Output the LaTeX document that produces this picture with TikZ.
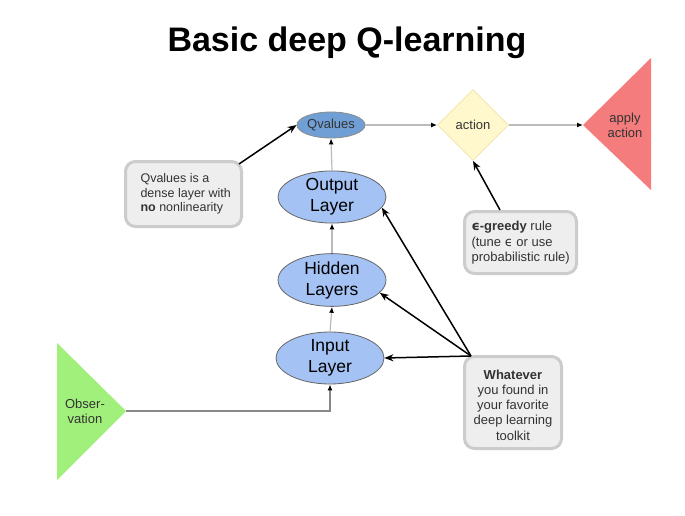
\documentclass[tikz,border=0pt]{standalone}
\usepackage{fontspec}
\setmainfont{Liberation Sans}
\newfontfamily\dv{DejaVu Sans}
\usetikzlibrary{shapes.geometric,arrows.meta}
\definecolor{layerfill}{HTML}{A4C2F4}
\definecolor{qfill}{HTML}{6F9FD4}
\definecolor{notefill}{HTML}{EEEEEE}
\definecolor{noteedge}{HTML}{CCCCCC}
\definecolor{actfill}{HTML}{FFF8CC}
\definecolor{actedge}{HTML}{F2E2A6}
\definecolor{redtri}{HTML}{F47C7C}
\definecolor{greentri}{HTML}{A2F07C}
\definecolor{txt}{HTML}{333333}
\definecolor{thinline}{HTML}{BBBBBB}
\definecolor{obsline}{HTML}{888888}
\begin{document}
\begin{tikzpicture}[x=1pt,y=-1pt,
  layer/.style={ellipse,draw=black!60,line width=0.8pt,fill=layerfill,minimum width=108pt,minimum height=52pt,inner sep=0pt,align=center,font=\fontsize{17.5}{21}\selectfont},
  note/.style={rectangle,rounded corners=10pt,draw=noteedge,line width=3pt,fill=notefill,text=txt,inner sep=0pt},
  small/.style={font=\fontsize{13}{15.2}\selectfont,text=txt,align=center},
  bigarrow/.style={-{Stealth[length=9pt,width=7pt]},line width=1.5pt,black},
  thinarrow/.style={-{Latex[length=6pt,width=5pt,color=black]},line width=1.2pt,thinline}]
\useasboundingbox (0,0) rectangle (685,516);
\fill[white] (0,0) rectangle (685,516);

% title
\node (title) at (347,43) {\fontsize{34}{38}\selectfont\bfseries Basic deep Q-learning};

% Qvalues
\node[ellipse,draw=black!45,line width=0.8pt,fill=qfill,minimum width=68pt,minimum height=26pt,inner sep=0pt,small] (q) at (331,125) {Qvalues};

% action diamond
\node[diamond,draw=actedge,line width=0.8pt,fill=actfill,minimum width=71pt,minimum height=71pt,inner sep=0pt,small] (act) at (473,125) {action};

% apply action triangle
\fill[redtri] (583,125) -- (651,58) -- (651,190) -- cycle;
\coordinate (applytip) at (583,125);
\node[small] (apply) at (625,125) {apply\\action};

% observation triangle
\fill[greentri] (57,343) -- (126,411) -- (57,480) -- cycle;
\coordinate (obstip) at (126,411);
\node[small] (obs) at (85,411) {Obser-\\vation};

% layers
\node[layer] (out) at (332,197) {Output\\Layer};
\node[layer] (hid) at (332,280) {Hidden\\Layers};
\node[layer] (inp) at (330,358) {Input\\Layer};

% notes
\node[note,minimum width=116pt,minimum height=65pt] (qnote) at (183.5,194) {};
\node[anchor=west,align=left,text=txt,font=\fontsize{12.5}{14.5}\selectfont] (qnotetext) at (137,194) {Qvalues is a\\dense layer with\\\textbf{no} nonlinearity};

\node[note,minimum width=112pt,minimum height=62pt] (enote) at (520.5,242.5) {};
\node[anchor=west,align=left,text=txt,font=\fontsize{13}{15.5}\selectfont] (enotetext) at (468,243) {\textbf{{\dv ϵ}-greedy} rule\\(tune {\dv ϵ} or use\\probabilistic rule)};

\node[note,minimum width=97pt,minimum height=92pt] (wnote) at (513,402.5) {};
\node[small] (wnotetext) at (513,405) {\textbf{Whatever}\\you found in\\your favorite\\deep learning\\toolkit};

% connectors
\draw[thinarrow] (q.east) -- (act.west);
\draw[thinarrow] (act.east) -- (applytip);
\draw[thinarrow] (inp.north) -- (hid.south);
\draw[thinarrow] (hid.north) -- (out.south);
\draw[thinarrow] (out.north) -- (q.south);
\draw[-{Latex[length=6pt,width=5pt,color=black]},line width=1.5pt,obsline] (obstip) -| (inp.south);

\coordinate (qn) at (239,164);
\draw[bigarrow] (qn) -- (q.west);
\coordinate (en) at (500,210);
\draw[bigarrow] (en) -- (act.south);
\coordinate (wn) at (471,356);
\draw[bigarrow] (wn) -- (out.-12);
\draw[bigarrow] (wn) -- (hid.-15);
\draw[bigarrow] (wn) -- (inp.east);
\end{tikzpicture}
\end{document}
